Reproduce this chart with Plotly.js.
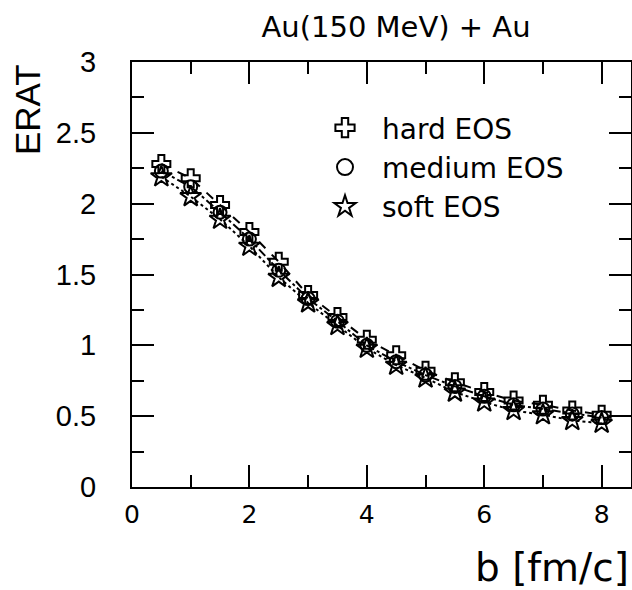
<!DOCTYPE html>
<html>
<head>
<meta charset="utf-8">
<script src="https://cdn.plot.ly/plotly-3.0.1.min.js"></script>
<style>html,body{margin:0;padding:0;background:#fff;}</style>
</head>
<body>
<div id="chart" style="width:632px;height:590px;"></div>
<script>
const impactParam = [0.5, 1, 1.5, 2, 2.5, 3, 3.5, 4, 4.5, 5, 5.5, 6, 6.5, 7, 7.5, 8];
const hardEOS   = [2.28, 2.18, 1.99, 1.80, 1.59, 1.355, 1.20, 1.04, 0.93, 0.82, 0.74, 0.67, 0.61, 0.58, 0.54, 0.51];
const mediumEOS = [2.23, 2.12, 1.94, 1.75, 1.53, 1.33, 1.17, 1.00, 0.885, 0.79, 0.71, 0.64, 0.58, 0.55, 0.515, 0.49];
const softEOS   = [2.19, 2.05, 1.89, 1.70, 1.48, 1.30, 1.14, 0.98, 0.86, 0.77, 0.67, 0.60, 0.54, 0.51, 0.47, 0.45];
const seriesNames = ['hard EOS', 'medium EOS', 'soft EOS'];
const xTickVals = [0, 2, 4, 6, 8];

const symbols = ['cross-open', 'circle-open', 'star-open'];
const sizes = [15, 13, 16];
const legendSizes = [16, 16, 16];
const dashes = ['dash', 'dashdot', 'dot'];
const allY = [hardEOS, mediumEOS, softEOS];

const traces = [];
allY.forEach((ys, i) => {
  traces.push({
    x: impactParam, y: ys, type: 'scatter', mode: 'lines+markers',
    showlegend: false,
    line: {color: '#000', width: 2, dash: dashes[i]},
    marker: {symbol: symbols[i], size: sizes[i], color: '#000', line: {color: '#000', width: 2}}
  });
});
allY.forEach((ys, i) => {
  traces.push({
    x: [null], y: [null], type: 'scatter', mode: 'markers', name: seriesNames[i],
    showlegend: true,
    marker: {symbol: symbols[i], size: legendSizes[i], color: '#000', line: {color: '#000', width: 2}}
  });
});

const layout = {
  width: 632, height: 590,
  margin: {l: 132, r: 1, t: 62, b: 103},
  paper_bgcolor: '#fff', plot_bgcolor: '#fff',
  showlegend: true,
  title: {text: 'Au(150 MeV) + Au', x: 396/632, xref: 'container', xanchor: 'center',
          y: 1 - 27/590, yref: 'container', yanchor: 'middle',
          font: {family: 'DejaVu Sans', size: 29, color: '#000'}},
  xaxis: {
    range: [0, 8.5], tickvals: xTickVals, ticktext: xTickVals.map(String),
    ticks: 'inside', ticklen: 22, tickwidth: 2, tickcolor: '#000',
    showline: true, linewidth: 2, linecolor: '#000', mirror: 'allticks',
    minor: {dtick: 1, ticks: 'inside', ticklen: 12, tickwidth: 2, tickcolor: '#000'},
    showgrid: false, zeroline: false,
    tickfont: {family: 'DejaVu Sans', size: 25, color: '#000'},
    ticklabelstandoff: 4
  },
  yaxis: {
    range: [0, 3], dtick: 0.5, tick0: 0,
    ticks: 'inside', ticklen: 22, tickwidth: 2, tickcolor: '#000',
    showline: true, linewidth: 2, linecolor: '#000', mirror: 'allticks',
    minor: {dtick: 0.25, ticks: 'inside', ticklen: 12, tickwidth: 2, tickcolor: '#000'},
    showgrid: false, zeroline: false,
    tickfont: {family: 'Liberation Sans', size: 29, color: '#000'},
    ticklabelstandoff: 28
  },
  legend: {
    x: (308 - 132) / 499, xanchor: 'left', y: (487 - 103) / 425, yanchor: 'top',
    bgcolor: 'rgba(0,0,0,0)', borderwidth: 0,
    font: {family: 'DejaVu Sans', size: 28, color: '#000'},
    itemwidth: 64, traceorder: 'normal'
  },
  annotations: [
    {text: 'b [fm/c]', xref: 'paper', yref: 'paper', x: 1, y: (487 - 567) / 425,
     xanchor: 'right', yanchor: 'middle', showarrow: false,
     font: {family: 'DejaVu Sans', size: 39, color: '#000'}},
    {text: 'ERAT', xref: 'paper', yref: 'paper', x: (27 - 132) / 499, y: (487 - 110) / 425,
     xanchor: 'center', yanchor: 'middle', textangle: -90, showarrow: false,
     font: {family: 'Liberation Sans', size: 35, color: '#000'}}
  ]
};

Plotly.newPlot('chart', traces, layout, {displayModeBar: false, staticPlot: true});
</script>
</body>
</html>
